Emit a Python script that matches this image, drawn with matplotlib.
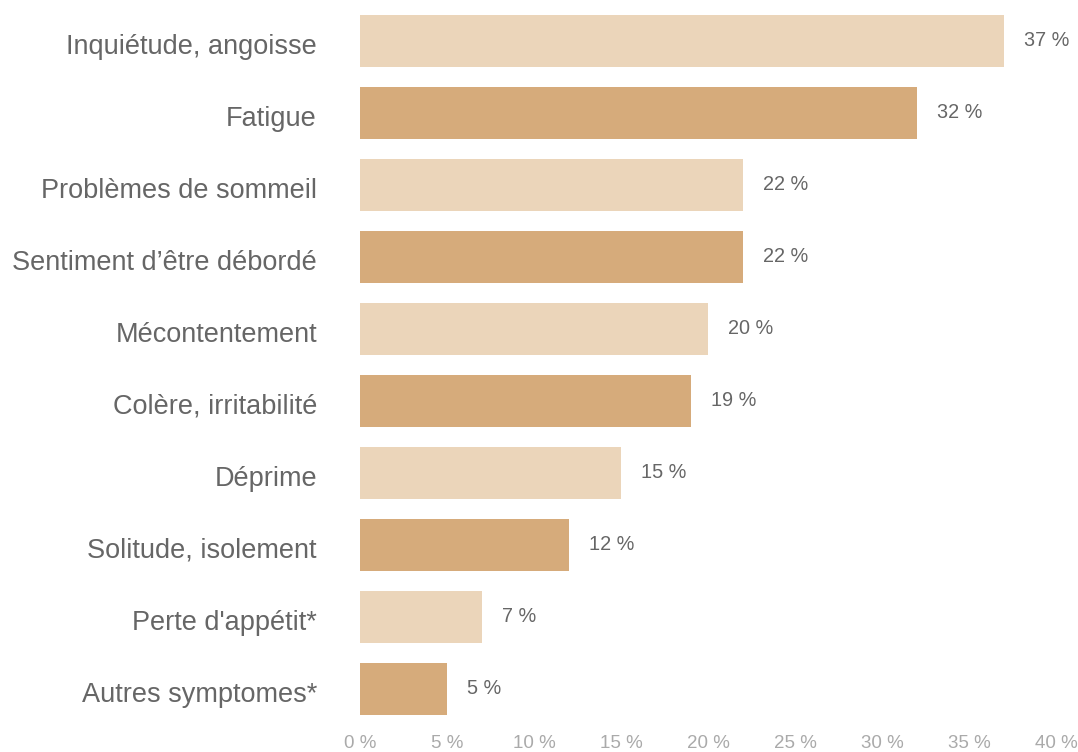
import matplotlib
matplotlib.use("Agg")
import matplotlib.pyplot as plt
import matplotlib.transforms as mtransforms

categories = ["Inquiétude, angoisse", "Fatigue", "Problèmes de sommeil",
              "Sentiment d’être débordé", "Mécontentement", "Colère, irritabilité",
              "Déprime", "Solitude, isolement", "Perte d'appétit*", "Autres symptomes*"]
values = [37, 32, 22, 22, 20, 19, 15, 12, 7, 5]
ticks = [0, 5, 10, 15, 20, 25, 30, 35, 40]
tick_labels = [f"{t} %" for t in ticks]

light = "#EBD5BA"
dark = "#D6AB7B"

plt.rcParams['font.family'] = ['Liberation Sans', 'DejaVu Sans']

fig = plt.figure(figsize=(10.78, 7.52), dpi=100)
ax = fig.add_axes([360/1078, 1-725/752, (1056-360)/1078, 720/752])

ypos = list(range(len(categories)))
colors = [light if i % 2 == 0 else dark for i in ypos]
ax.barh(ypos, values, height=0.72, color=colors)
for y, v in zip(ypos, values):
    ax.text(v + 1.15, y, f"{v} %", va="center", ha="left",
            fontsize=14.3, color="#666666")

ax.set_xlim(0, 40)
ax.set_ylim(len(categories) - 0.5, -0.5)
ax.set_yticks(ypos)
ax.set_yticklabels(categories, fontsize=19.5, color="#666666")
ax.set_xticks(ticks)
ax.set_xticklabels(tick_labels, fontsize=13.5, color="#aaaaaa")
ax.tick_params(axis="y", length=0, pad=31)
ax.tick_params(axis="x", length=0, pad=7.5)
offset = mtransforms.ScaledTranslation(0, -2/72, fig.dpi_scale_trans)
for lbl in ax.get_yticklabels():
    lbl.set_transform(lbl.get_transform() + offset)
for s in ax.spines.values():
    s.set_visible(False)

fig.savefig("out.png", dpi=100)
